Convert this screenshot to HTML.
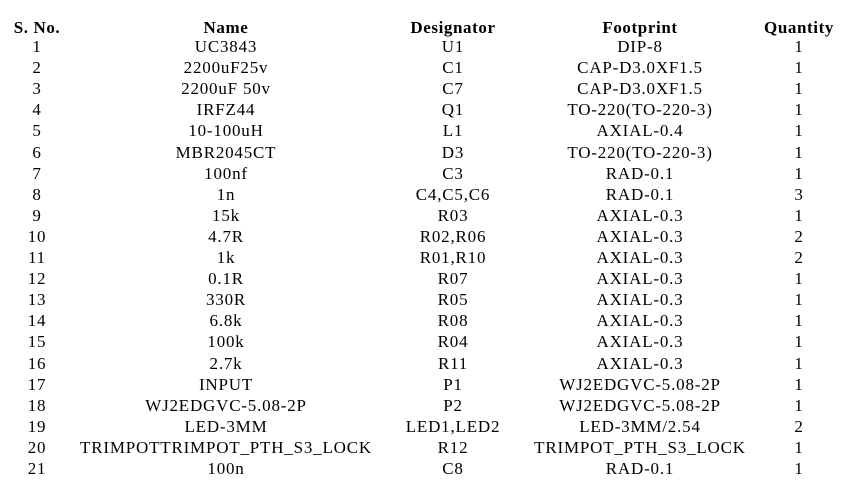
<!DOCTYPE html>
<html><head><meta charset="utf-8"><style>
body{margin:0;width:850px;height:497px;background:#fff;overflow:hidden;font-family:"Liberation Serif",serif;font-size:17px;letter-spacing:0.8px;color:#000}
.r{position:absolute;left:0;width:850px;height:21px;line-height:21px}
.r span{position:absolute;top:0;white-space:nowrap;transform:translateX(-50%)}
.h{font-weight:bold;letter-spacing:0.6px}
.c1{left:37px}.c2{left:226px}.c3{left:453px}.c4{left:640px}.c5{left:799px}
</style></head><body>
<div id="t"></div>
<script>
var rows=[["S. No.","Name","Designator","Footprint","Quantity"],
["1","UC3843","U1","DIP-8","1"],
["2","2200uF25v","C1","CAP-D3.0XF1.5","1"],
["3","2200uF 50v","C7","CAP-D3.0XF1.5","1"],
["4","IRFZ44","Q1","TO-220(TO-220-3)","1"],
["5","10-100uH","L1","AXIAL-0.4","1"],
["6","MBR2045CT","D3","TO-220(TO-220-3)","1"],
["7","100nf","C3","RAD-0.1","1"],
["8","1n","C4,C5,C6","RAD-0.1","3"],
["9","15k","R03","AXIAL-0.3","1"],
["10","4.7R","R02,R06","AXIAL-0.3","2"],
["11","1k","R01,R10","AXIAL-0.3","2"],
["12","0.1R","R07","AXIAL-0.3","1"],
["13","330R","R05","AXIAL-0.3","1"],
["14","6.8k","R08","AXIAL-0.3","1"],
["15","100k","R04","AXIAL-0.3","1"],
["16","2.7k","R11","AXIAL-0.3","1"],
["17","INPUT","P1","WJ2EDGVC-5.08-2P","1"],
["18","WJ2EDGVC-5.08-2P","P2","WJ2EDGVC-5.08-2P","1"],
["19","LED-3MM","LED1,LED2","LED-3MM/2.54","2"],
["20","TRIMPOTTRIMPOT_PTH_S3_LOCK","R12","TRIMPOT_PTH_S3_LOCK","1"],
["21","100n","C8","RAD-0.1","1"]];
var h="";
rows.forEach(function(r,i){
 var top=i==0?16.5:36+(i-1)*21.1;
 h+='<div class="r'+(i==0?' h':'')+'" style="top:'+top+'px">';
 r.forEach(function(c,j){h+='<span class="c'+(j+1)+'">'+c+'</span>';});
 h+='</div>';
});
document.getElementById('t').innerHTML=h;
</script>
</body></html>
